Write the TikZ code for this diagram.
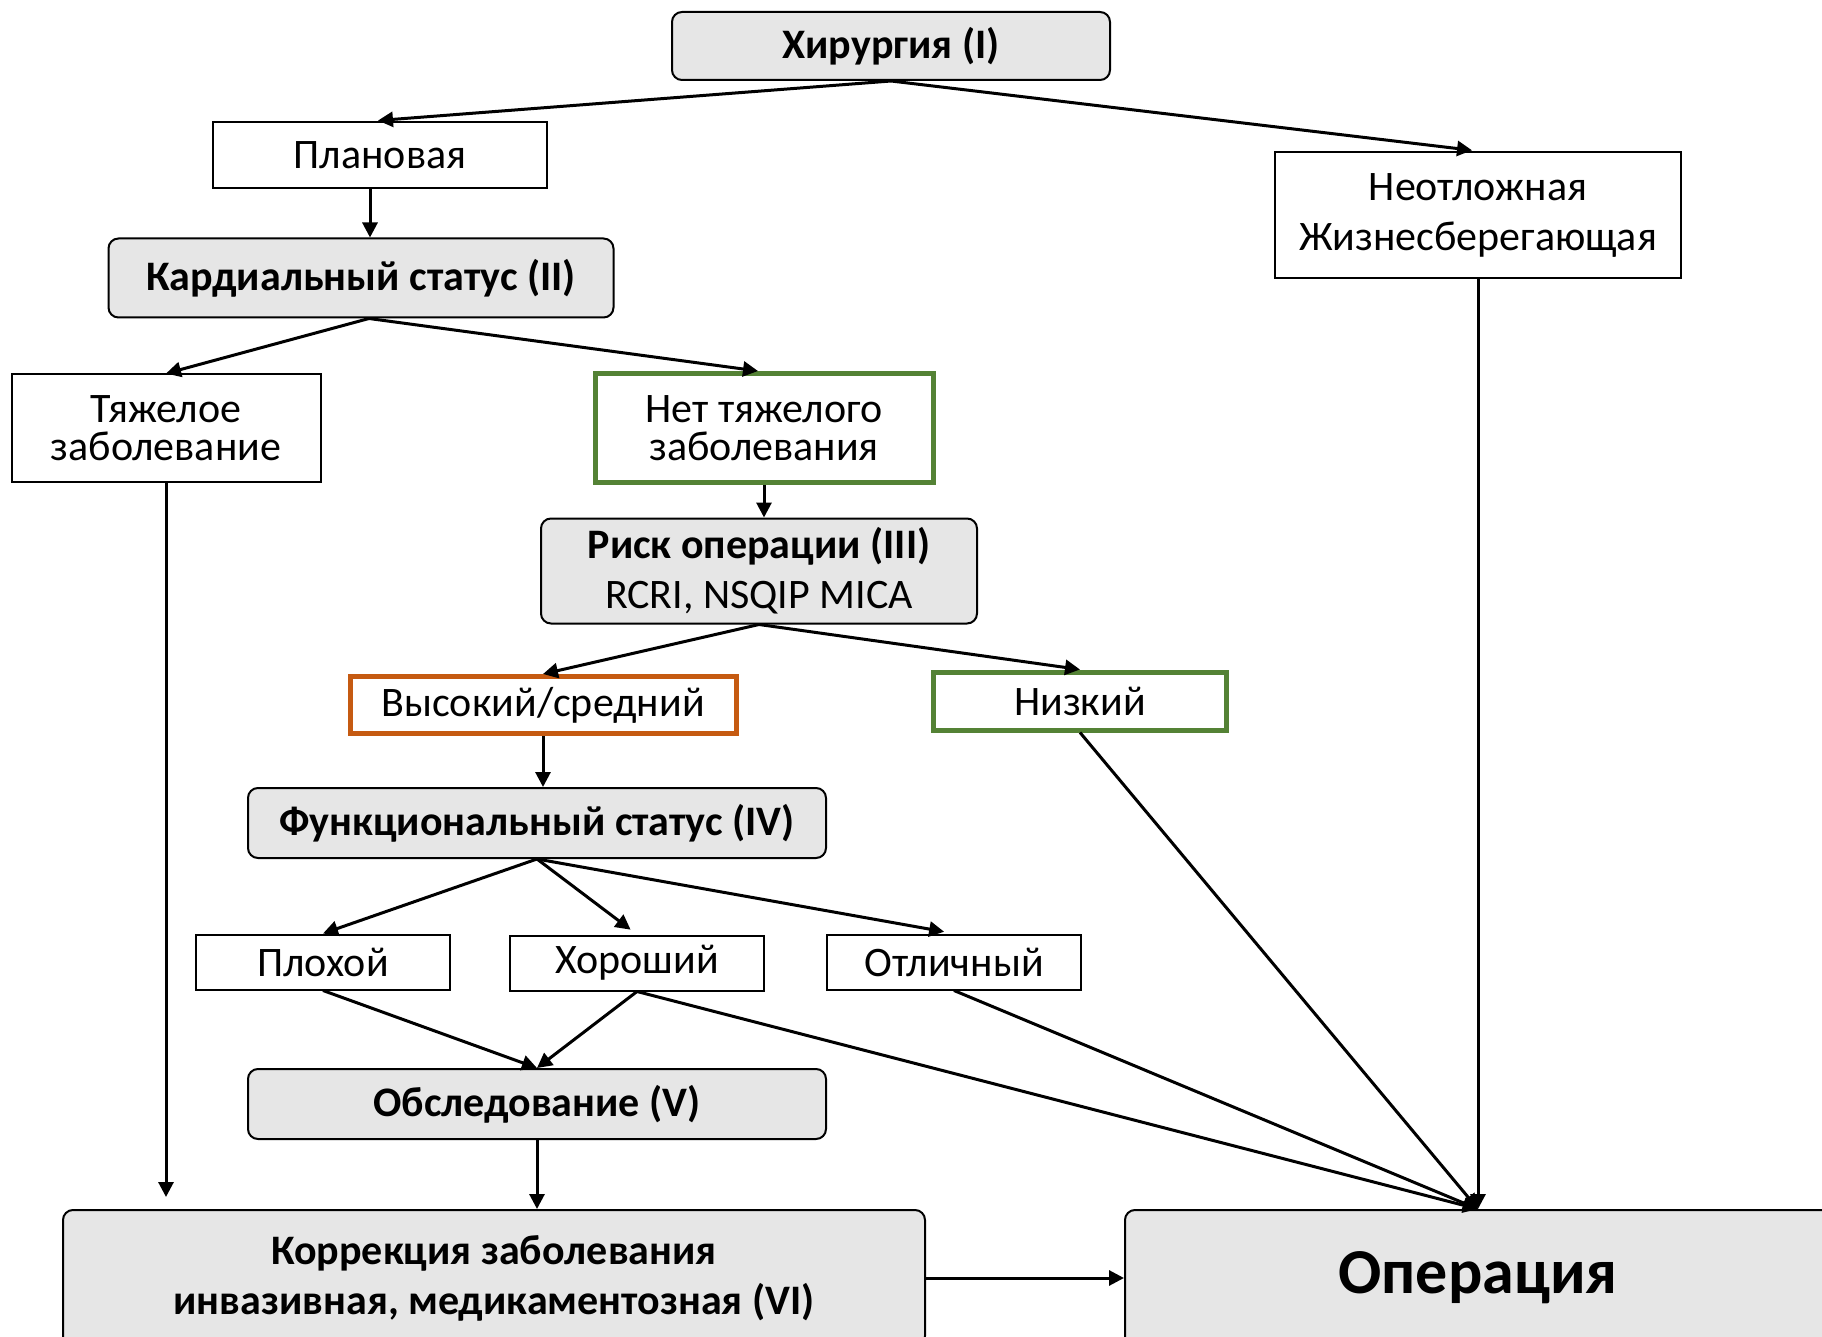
\documentclass[tikz,border=0pt]{standalone}
\usepackage{fontspec}
\setmainfont{Carlito}
\usetikzlibrary{arrows.meta}
\definecolor{boxgray}{HTML}{E6E6E6}
\definecolor{okgreen}{HTML}{548235}
\definecolor{riskorange}{HTML}{C55A11}

\begin{document}
\begin{tikzpicture}[
  x=0.5pt, y=-0.5pt,
  plain/.style={draw, line width=1pt, inner sep=0pt, align=center,
    font=\fontsize{21}{25}\selectfont},
  stage/.style={plain, fill=boxgray, rounded corners=5pt},
  good/.style={plain, draw=okgreen, line width=2.5pt},
  risky/.style={plain, draw=riskorange, line width=2.5pt},
  flow/.style={-{Triangle[length=7.5pt,width=7.5pt]}, line width=1.5pt}]

% ---- page: 1822 x 1337 px, 1 px = 0.5pt, y downwards ---------------------
\useasboundingbox (0,0) rectangle (1822,1337);
\clip (0,0) rectangle (1822,1337);

% ======================= top: the kind of surgery ========================
\node[stage, minimum width=219pt, minimum height=34pt] (surg) at (891,46)
  {\bfseries Хирургия (I)};
\node[plain, minimum width=167pt, minimum height=33pt] (plan) at (380,155)
  {Плановая};
\node[plain, minimum width=203pt, minimum height=63pt] (urg) at (1478,215)
  {Неотложная\\Жизнесберегающая};

% ======================= cardiac status ==================================
\node[stage, minimum width=252.5pt, minimum height=39.5pt] (card) at (361,278)
  {\bfseries Кардиальный статус (II)};
\node[plain, minimum width=154.5pt, minimum height=53.5pt,
  font=\fontsize{21}{19}\selectfont] (heavy) at (166,428)
  {Тяжелое\\заболевание};
\node[good, minimum width=169pt, minimum height=54.5pt,
  font=\fontsize{21}{19}\selectfont] (noheavy) at (764,428)
  {Нет тяжелого\\заболевания};

% ======================= operative risk ==================================
\node[stage, minimum width=218pt, minimum height=52.5pt] (risk) at (759,571)
  {\textbf{Риск операции (III)}\\RCRI, NSQIP MICA};
\node[risky, minimum width=193pt, minimum height=28.5pt] (high) at (543,705)
  {Высокий/средний};
\node[good, minimum width=146.5pt, minimum height=29pt] (low) at (1080,701)
  {Низкий};

% ======================= functional status ===============================
\node[stage, minimum width=289pt, minimum height=35pt] (func) at (537,823)
  {\bfseries Функциональный статус (IV)};
\node[plain, minimum width=127pt, minimum height=27.5pt] (poor) at (323,962)
  {Плохой};
\node[plain, minimum width=127pt, minimum height=27.5pt] (fair) at (637,963)
  {Хороший};
\node[plain, minimum width=127pt, minimum height=27.5pt] (excel) at (954,962)
  {Отличный};
\node[stage, minimum width=289pt, minimum height=35pt] (exam) at (537,1104)
  {\bfseries Обследование (V)};

% ======================= bottom: outcome =================================
\node[stage, minimum width=431pt, minimum height=68pt] (corr) at (494,1278)
  {\bfseries Коррекция заболевания\\\bfseries инвазивная, медикаментозная (VI)};
\node[stage, minimum width=353pt, minimum height=68pt,
  font=\fontsize{32}{38}\selectfont\bfseries] (oper) at (1478,1278)
  {Операция};

% ======================= connectors ======================================
\coordinate (stem) at ([xshift=-5pt]plan.south);
\coordinate (split) at ([xshift=4pt]card.south);
\draw[flow, shorten >=3pt] (surg.south) -- ([xshift=-4pt]plan.north);
\draw[flow, shorten >=3pt] (surg.south) -- (urg.north);
\draw[flow] (stem) -- (card.north -| stem);
\draw[flow] (split) -- (heavy.north);
\draw[flow] (split) -- ([xshift=-3pt]noheavy.north);
\draw[flow] (noheavy.south) -- (risk.north -| noheavy.south);
\draw[flow] (risk.south) -- (high.north);
\draw[flow] (risk.south) -- (low.north);
\draw[flow] (high.south) -- (func.north -| high.south);
\draw[flow] (func.south) -- (poor.north);
\draw[flow, shorten >=4pt] (func.south) -- (fair.north);
\draw[flow, shorten >=5pt] (func.south) -- (excel.north);
\draw[flow] (poor.south) -- (exam.north);
\draw[flow] (fair.south) -- (exam.north);
\draw[flow] (exam.south) -- (corr.north -| exam.south);
\draw[flow, shorten >=6pt] (heavy.south) -- (corr.north -| heavy.south);
\draw[flow] (fair.south) -- (oper.north);
\draw[flow] (excel.south) -- (oper.north);
\draw[flow] (low.south) -- (oper.north);
\draw[flow] (urg.south) -- (oper.north);
\draw[flow] (corr.east) -- (oper.west);

\end{tikzpicture}
\end{document}
